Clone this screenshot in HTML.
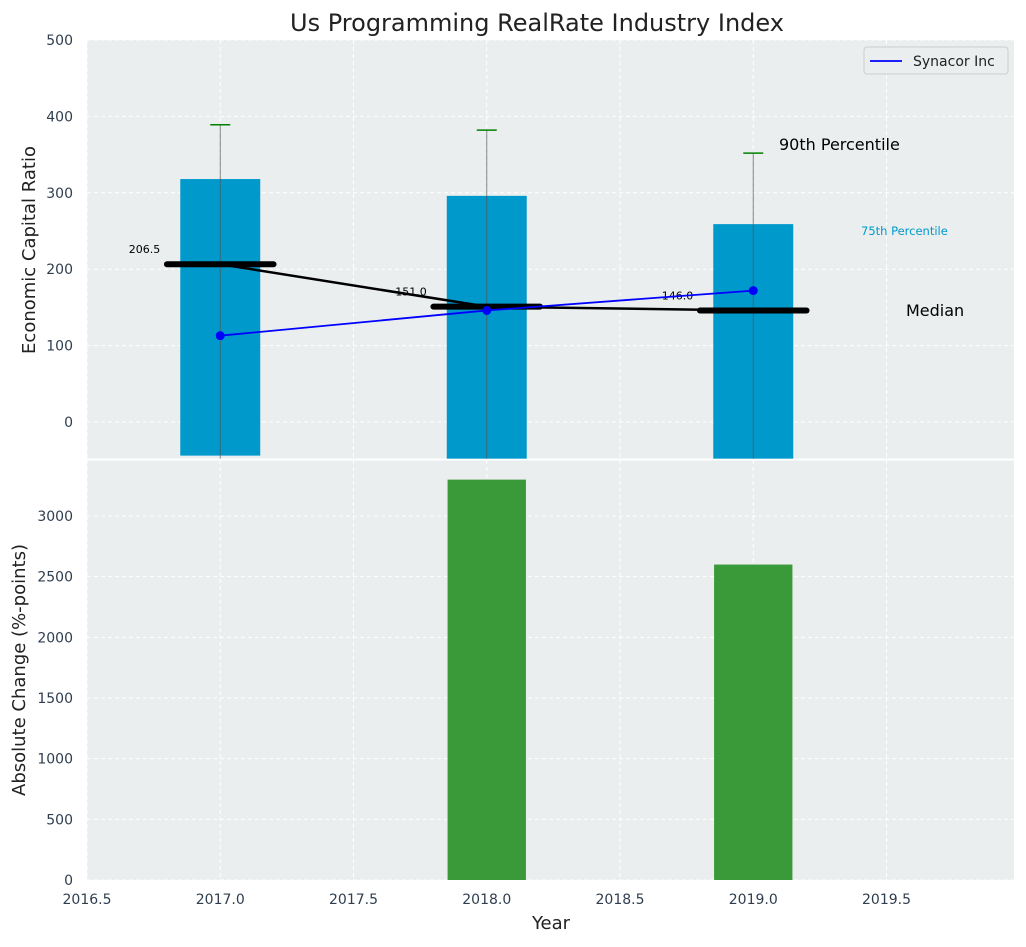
<!DOCTYPE html>
<html><head><meta charset="utf-8"><style>
body{margin:0;background:#fff;font-family:"Liberation Sans","DejaVu Sans",sans-serif;}
svg text{font-family:"DejaVu Sans","Liberation Sans",sans-serif;}
</style></head><body>
<svg id="c" width="1026" height="942" xmlns="http://www.w3.org/2000/svg"></svg>
<script>
const years=[2017,2018,2019];
const bar75=[318,296,259];
const barBase=[-44,-48,-48];
const p90=[389,382,352];
const medians=[206.5,151.0,146.0];
const synacor=[113,146,172];
const absChange=[0,3300,2600];
const xTicks=[2016.5,2017,2017.5,2018,2018.5,2019,2019.5];
const yTopTicks=[0,100,200,300,400,500];
const yBotTicks=[0,500,1000,1500,2000,2500,3000];

const NS="http://www.w3.org/2000/svg";
const svg=document.getElementById('c');
function el(t,a,p){const e=document.createElementNS(NS,t);for(const k in a)e.setAttribute(k,a[k]);(p||svg).appendChild(e);return e;}
const L=87,R=1014;
const x=v=>87+(v-2016.5)*266.5;
const yT=v=>422-v*0.764;
const yB=v=>880-v*0.12133;
const TOP=40,MID=459.5,BOT=880;

// backgrounds
let bg=el('rect',{x:L,y:TOP,width:R-L,height:MID-TOP,fill:'#eaeeef'});

let bg2=el('rect',{x:L,y:MID+1,width:R-L,height:BOT-MID-1,fill:'#eaeeef'});


// grids
xTicks.forEach(t=>{
  el('line',{x1:x(t),x2:x(t),y1:TOP,y2:BOT,stroke:'#fff','stroke-dasharray':'4,3','stroke-width':1});
  const tx=el('text',{x:x(t),y:904,'text-anchor':'middle','font-size':14,fill:'#2f3e4f'});tx.textContent=t.toFixed(1);
  
});
yTopTicks.forEach(t=>{
  el('line',{x1:L,x2:R,y1:yT(t),y2:yT(t),stroke:'#fff','stroke-dasharray':'4,3'});
  const tx=el('text',{x:73,y:yT(t)+5,'text-anchor':'end','font-size':14,fill:'#2f3e4f'});tx.textContent=t;
  
});
yBotTicks.forEach(t=>{
  el('line',{x1:L,x2:R,y1:yB(t),y2:yB(t),stroke:'#fff','stroke-dasharray':'4,3'});
  const tx=el('text',{x:73,y:yB(t)+5,'text-anchor':'end','font-size':14,fill:'#2f3e4f'});tx.textContent=t;
  
});
el('line',{x1:L,x2:R,y1:MID,y2:MID,stroke:'#fff','stroke-width':2});

// top bars
const bw=0.3;
years.forEach((yr,i)=>{
  const b=el('rect',{x:x(yr-bw/2),y:yT(bar75[i]),width:bw*266.5,height:yT(barBase[i])-yT(bar75[i]),fill:'#0099cc'});
  
  const w=el('line',{x1:x(yr),x2:x(yr),y1:yT(p90[i]),y2:yT(-48),stroke:'#555','stroke-width':1,opacity:0.7});
  
  const c=el('line',{x1:x(yr)-10,x2:x(yr)+10,y1:yT(p90[i]),y2:yT(p90[i]),stroke:'#008000','stroke-width':1.5});
  
});
// median line
let pts=years.map((yr,i)=>x(yr)+','+yT(medians[i])).join(' ');
let ml=el('polyline',{points:pts,fill:'none',stroke:'#000','stroke-width':2.5});

years.forEach((yr,i)=>{
  const m=el('line',{x1:x(yr-0.2),x2:x(yr+0.2),y1:yT(medians[i]),y2:yT(medians[i]),stroke:'#000','stroke-width':6,'stroke-linecap':'round'});
  
  const t=el('text',{x:x(yr)-60,y:yT(medians[i])-11,'text-anchor':'end','font-size':11,fill:'#000'});t.textContent=medians[i].toFixed(1);
  
});
// synacor
let sp=years.map((yr,i)=>x(yr)+','+yT(synacor[i])).join(' ');
let sl=el('polyline',{points:sp,fill:'none',stroke:'#0000ff','stroke-width':1.8});

years.forEach((yr,i)=>{
  const d=el('circle',{cx:x(yr),cy:yT(synacor[i]),r:4.5,fill:'#0000ff'});
  
});
// bottom bars
years.forEach((yr,i)=>{
  if(!absChange[i])return;
  const b=el('rect',{x:x(yr-0.147),y:yB(absChange[i]),width:0.294*266.5,height:yB(0)-yB(absChange[i]),fill:'#3a9a3a'});
  
});
// annotations
function txt(s,a,name){const t=el('text',a);t.textContent=s;return t;}
txt('90th Percentile',{x:779,y:150,'font-size':16,fill:'#000'},'annotation-90th');
txt('75th Percentile',{x:861,y:235,'font-size':11.5,fill:'#0099cc'},'annotation-75th');
txt('Median',{x:906,y:316,'font-size':16,fill:'#000'},'annotation-median');
txt('Us Programming RealRate Industry Index',{x:537,y:31,'text-anchor':'middle','font-size':24,fill:'#222'},'chart-title');
txt('Year',{x:551,y:929,'text-anchor':'middle','font-size':18,fill:'#222'},'x-axis-title');
txt('Economic Capital Ratio',{x:0,y:0,'text-anchor':'middle','font-size':18,fill:'#222',transform:'translate(35,250) rotate(-90)'},'y-top-axis-title');
txt('Absolute Change (%-points)',{x:0,y:0,'text-anchor':'middle','font-size':18,fill:'#222',transform:'translate(25,670) rotate(-90)'},'y-bottom-axis-title');
// legend
const lg=el('g',{});
el('rect',{x:864,y:47,width:144,height:27,rx:3,fill:'#eaeeef',stroke:'#ccc'},lg);
el('line',{x1:870,x2:902,y1:61,y2:61,stroke:'#0000ff','stroke-width':1.8},lg);
const lt=el('text',{x:913,y:66,'font-size':14,fill:'#222'},lg);lt.textContent='Synacor Inc';

</script>
</body></html>
